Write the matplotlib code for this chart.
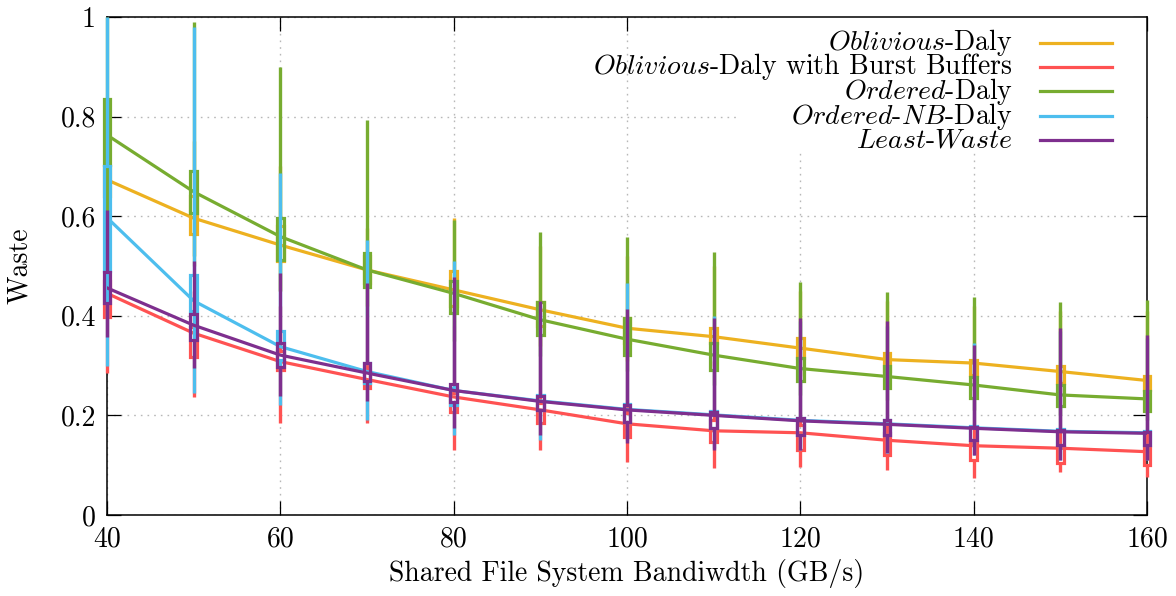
import matplotlib
matplotlib.use("Agg")
import matplotlib.pyplot as plt
import numpy as np

plt.rcParams["font.family"] = ["cmr10", "DejaVu Serif"]
plt.rcParams["mathtext.fontset"] = "cm"
plt.rcParams["axes.formatter.use_mathtext"] = True

bandwidth = [40, 50, 60, 70, 80, 90, 100, 110, 120, 130, 140, 150, 160]

# per series: centre line, box low/high, whisker low/high
obl_mid = [0.673, 0.596, 0.542, 0.492, 0.452, 0.412, 0.375, 0.358, 0.335, 0.312, 0.305, 0.288, 0.270]
obl_blo = [0.640, 0.564, 0.509, 0.465, 0.420, 0.380, 0.345, 0.345, 0.315, 0.290, 0.281, 0.264, 0.251]
obl_bhi = [0.700, 0.640, 0.580, 0.520, 0.490, 0.428, 0.395, 0.375, 0.355, 0.325, 0.311, 0.300, 0.280]
obl_wlo = [0.550, 0.500, 0.450, 0.420, 0.380, 0.340, 0.310, 0.300, 0.280, 0.260, 0.250, 0.240, 0.220]
obl_whi = [0.800, 0.750, 0.700, 0.576, 0.596, 0.540, 0.520, 0.500, 0.450, 0.430, 0.420, 0.410, 0.410]

bb_mid = [0.445, 0.365, 0.308, 0.272, 0.237, 0.211, 0.183, 0.169, 0.165, 0.150, 0.139, 0.134, 0.127]
bb_blo = [0.398, 0.318, 0.291, 0.255, 0.207, 0.185, 0.157, 0.147, 0.130, 0.120, 0.110, 0.104, 0.100]
bb_bhi = [0.470, 0.378, 0.330, 0.290, 0.245, 0.225, 0.205, 0.190, 0.180, 0.165, 0.147, 0.137, 0.135]
bb_wlo = [0.285, 0.236, 0.185, 0.185, 0.130, 0.130, 0.107, 0.095, 0.097, 0.090, 0.074, 0.087, 0.077]
bb_whi = [0.690, 0.450, 0.420, 0.400, 0.380, 0.360, 0.330, 0.310, 0.300, 0.290, 0.280, 0.270, 0.270]

ord_mid = [0.763, 0.649, 0.559, 0.492, 0.445, 0.392, 0.353, 0.321, 0.294, 0.278, 0.261, 0.241, 0.233]
ord_blo = [0.703, 0.606, 0.512, 0.458, 0.405, 0.361, 0.321, 0.291, 0.268, 0.255, 0.234, 0.218, 0.209]
ord_bhi = [0.835, 0.691, 0.596, 0.527, 0.470, 0.428, 0.395, 0.345, 0.315, 0.300, 0.278, 0.261, 0.248]
ord_wlo = [0.600, 0.520, 0.450, 0.400, 0.350, 0.320, 0.290, 0.260, 0.240, 0.230, 0.210, 0.200, 0.190]
ord_whi = [1.000, 0.990, 0.900, 0.793, 0.592, 0.568, 0.559, 0.528, 0.468, 0.447, 0.438, 0.428, 0.432]

nb_mid = [0.597, 0.430, 0.338, 0.288, 0.250, 0.229, 0.212, 0.201, 0.190, 0.183, 0.175, 0.168, 0.165]
nb_blo = [0.489, 0.410, 0.311, 0.265, 0.221, 0.210, 0.187, 0.175, 0.160, 0.160, 0.151, 0.140, 0.140]
nb_bhi = [0.700, 0.482, 0.370, 0.306, 0.255, 0.240, 0.222, 0.208, 0.195, 0.191, 0.178, 0.172, 0.168]
nb_wlo = [0.300, 0.245, 0.220, 0.190, 0.160, 0.150, 0.150, 0.135, 0.130, 0.125, 0.120, 0.110, 0.110]
nb_whi = [1.000, 0.980, 0.687, 0.552, 0.510, 0.420, 0.465, 0.400, 0.390, 0.380, 0.345, 0.370, 0.355]

lw_mid = [0.456, 0.381, 0.321, 0.285, 0.250, 0.228, 0.211, 0.200, 0.189, 0.182, 0.174, 0.167, 0.164]
lw_blo = [0.426, 0.351, 0.298, 0.268, 0.226, 0.210, 0.187, 0.175, 0.160, 0.160, 0.151, 0.140, 0.140]
lw_bhi = [0.488, 0.403, 0.345, 0.305, 0.262, 0.238, 0.221, 0.207, 0.194, 0.190, 0.177, 0.171, 0.167]
lw_wlo = [0.357, 0.295, 0.238, 0.228, 0.175, 0.160, 0.145, 0.130, 0.130, 0.125, 0.120, 0.110, 0.110]
lw_whi = [0.612, 0.509, 0.486, 0.466, 0.478, 0.430, 0.413, 0.395, 0.395, 0.390, 0.341, 0.375, 0.361]

names = [
    r"$\mathit{Oblivious}$-Daly",
    r"$\mathit{Oblivious}$-Daly with Burst Buffers",
    r"$\mathit{Ordered}$-Daly",
    r"$\mathit{Ordered}$-$\mathit{NB}$-Daly",
    r"$\mathit{Least}$-$\mathit{Waste}$",
]
colors = ["#EDB120", "#FF5252", "#77AC30", "#4DBEEE", "#7E2F8E"]
series = [
    (obl_mid, obl_blo, obl_bhi, obl_wlo, obl_whi),
    (bb_mid, bb_blo, bb_bhi, bb_wlo, bb_whi),
    (ord_mid, ord_blo, ord_bhi, ord_wlo, ord_whi),
    (nb_mid, nb_blo, nb_bhi, nb_wlo, nb_whi),
    (lw_mid, lw_blo, lw_bhi, lw_wlo, lw_whi),
]

fig = plt.figure(figsize=(11.76, 5.96), dpi=100)
ax = fig.add_axes([0.091, 0.136, 0.8843, 0.8355])

ax.set_xlim(40, 160)
ax.set_ylim(0, 1)
xt = [40, 60, 80, 100, 120, 140, 160]
yt = [0, 0.2, 0.4, 0.6, 0.8, 1.0]
ax.set_xticks(xt, [str(v) for v in xt])
ax.set_yticks(yt, ["0", "0.2", "0.4", "0.6", "0.8", "1"])
ax.tick_params(direction="in", length=10, width=0.9, top=True, right=True,
               labelsize=20, pad=8, colors="black")
ax.grid(True, color="#b8b8b8", linewidth=1.0, linestyle=(0, (1.2, 3.6)))
ax.set_axisbelow(True)
for sp in ax.spines.values():
    sp.set_linewidth(1.1)

# opaque key box blanks the grid behind the legend
ax.add_patch(plt.Rectangle((0.607, 0.729), 0.393, 0.271, transform=ax.transAxes,
                           facecolor="white", edgecolor="none", zorder=1.2))

x = np.array(bandwidth, dtype=float)
z = 2
for (mid, blo, bhi, wlo, whi), c in zip(series, colors):
    ax.vlines(x, wlo, blo, color=c, linewidth=2.4, zorder=z, clip_on=False)
    ax.vlines(x, bhi, whi, color=c, linewidth=2.4, zorder=z, clip_on=False)
    bars = ax.bar(x, np.array(bhi) - np.array(blo), bottom=blo, width=0.75,
                  fill=False, edgecolor=c, linewidth=2.3, zorder=z + 0.1)
    for b in bars:
        b.set_clip_on(False)
    ax.plot(x, mid, color=c, linewidth=2.3, zorder=z + 0.2, solid_joinstyle="round")
    z += 1

# key, gnuplot style: right aligned text, sample line on the right
rows = [0.948, 0.900, 0.851, 0.801, 0.753]
for name, c, yy in zip(names, colors, rows):
    ax.text(0.871, yy, name, transform=ax.transAxes, ha="right", va="center",
            fontsize=20, zorder=10)
    ax.plot([0.897, 0.966], [yy, yy], transform=ax.transAxes, color=c,
            linewidth=2.3, zorder=10, clip_on=False)

ax.set_xlabel("Shared File System Bandiwdth (GB/s)", fontsize=20, labelpad=5)
ax.set_ylabel("Waste", fontsize=20, labelpad=20)

fig.savefig("out.png", dpi=100, facecolor="white")
